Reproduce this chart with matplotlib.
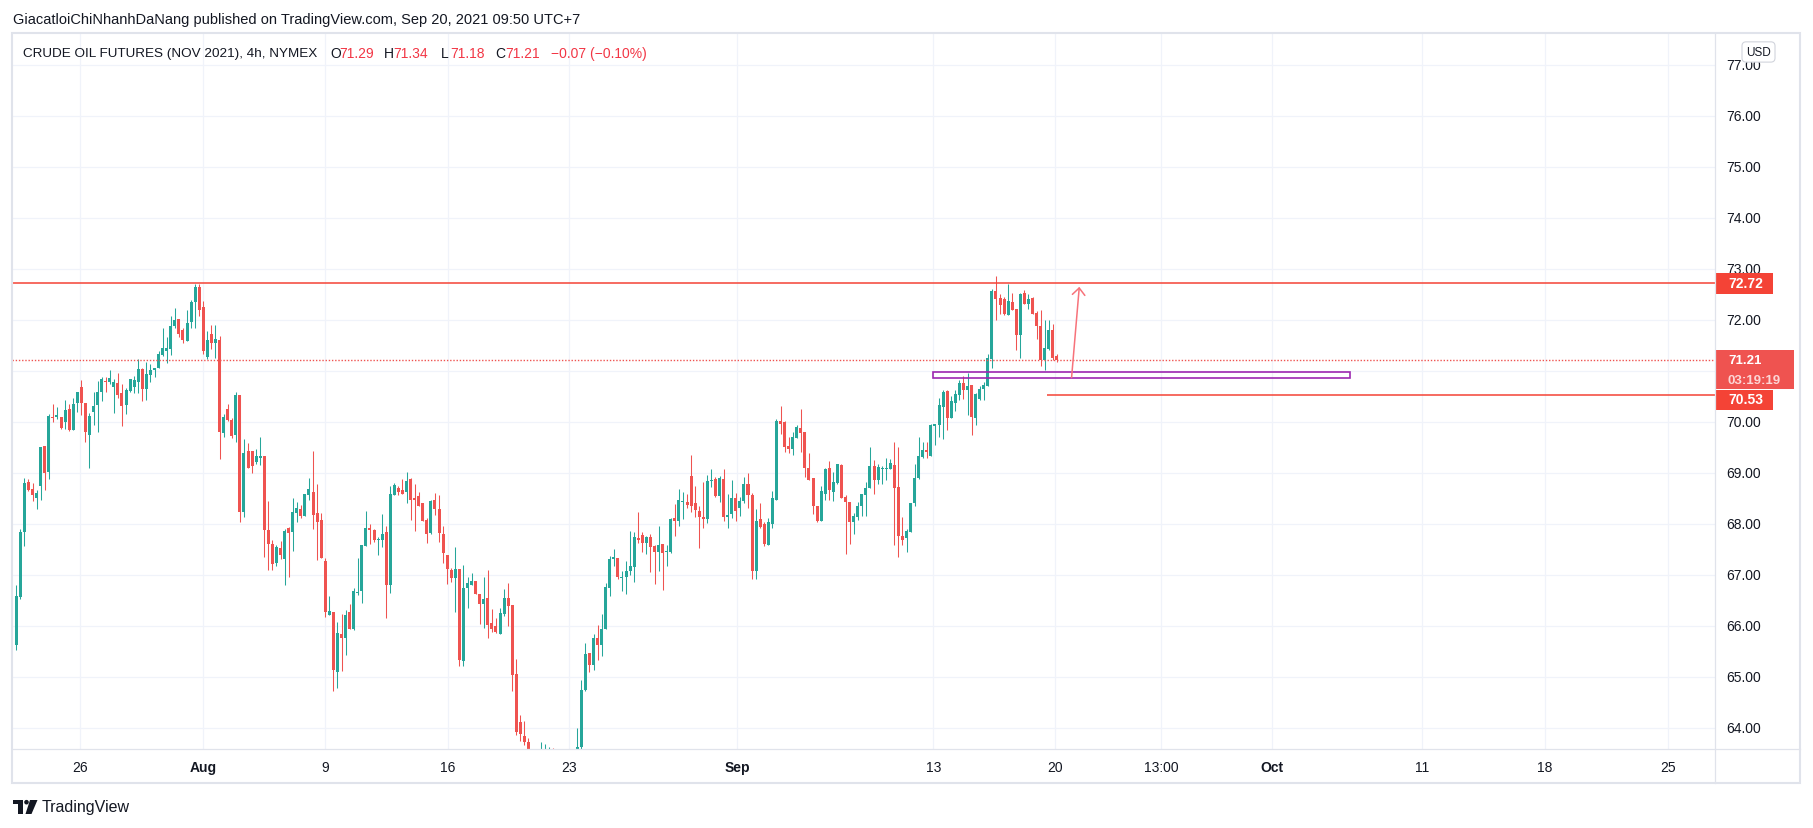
import numpy as np
import matplotlib
matplotlib.use("Agg")
import matplotlib.pyplot as plt
from matplotlib.patches import Rectangle, FancyArrowPatch, Polygon, Circle
from matplotlib.lines import Line2D

plt.rcParams['font.family'] = ['Liberation Sans', 'DejaVu Sans']

# ---- data: 4h candles, CL Nov 2021 ----
opens = [
    65.62, 66.56, 67.84, 68.82, 68.69, 68.50, 68.74, 69.52, 69.01, 70.10,
    70.09, 70.10, 69.99, 70.26, 69.85, 70.37, 70.69, 70.38, 69.75, 70.20,
    70.33, 70.59, 70.81, 70.79, 70.68, 70.77, 70.56, 70.33, 70.61, 70.69,
    70.79, 71.03, 70.65, 70.93, 71.01, 71.05, 71.32, 71.40, 71.44, 71.89,
    72.01, 71.81, 71.58, 71.97, 72.36, 72.65, 72.26, 71.28, 71.73, 71.54,
    71.61, 69.79, 70.26, 70.03, 69.75, 70.52, 68.24, 69.44, 69.44, 69.22,
    69.30, 69.34, 67.89, 67.61, 67.23, 67.52, 67.31, 67.93, 67.84, 68.21,
    68.30, 68.16, 68.56, 68.63, 68.22, 68.07, 67.28, 66.21, 66.28, 65.09,
    65.85, 65.76, 66.28, 65.95, 66.64, 66.69, 67.56, 67.93, 67.89, 67.68,
    67.68, 67.85, 66.80, 68.56, 68.71, 68.67, 68.62, 68.89, 68.50, 68.54,
    68.42, 68.08, 67.83, 68.48, 68.30, 67.81, 67.40, 67.09, 66.95, 67.12,
    65.31, 66.74, 66.81, 66.89, 66.62, 66.44, 66.54, 66.05, 65.99, 65.84,
    66.23, 66.54, 66.42, 65.05, 64.12, 63.84, 63.73, 63.35, 63.05, 63.20,
    63.30, 63.35, 63.48, 63.10, 62.60, 62.30, 62.55, 62.95, 63.30, 63.62,
    64.75, 65.48, 65.23, 65.77, 65.62, 65.95, 66.75, 67.32, 67.34, 66.95,
    66.97, 67.07, 67.15, 67.73, 67.79, 67.63, 67.75, 67.56, 67.46, 67.61,
    67.46, 67.46, 68.12, 68.05, 68.44, 68.44, 68.95, 68.42, 68.26, 68.14,
    68.09, 68.84, 68.89, 68.54, 68.89, 68.14, 68.20, 68.50, 68.31, 68.46,
    68.79, 68.56, 67.08, 68.09, 67.99, 67.59, 67.99, 68.48, 70.01, 69.99,
    69.52, 69.48, 69.69, 69.89, 69.81, 69.09, 68.91, 68.36, 68.05, 68.59,
    69.09, 68.63, 68.81, 69.16, 68.52, 68.44, 68.03, 68.14, 68.36, 68.56,
    68.71, 69.14, 68.87, 69.08, 69.08, 69.08, 69.16, 68.73, 67.76, 67.72,
    67.85, 68.42, 68.91, 69.32, 69.46, 69.34, 69.93, 69.95, 70.30, 70.61,
    70.08, 70.37, 70.52, 70.77, 70.62, 70.73, 70.08, 70.46, 70.65, 70.71,
    71.24, 72.56, 72.44, 72.42, 72.10, 72.36, 72.22, 71.71, 72.52, 72.32,
    72.44, 72.14, 71.89, 71.22, 71.44, 71.81, 71.29,
]
highs = [
    66.81, 67.91, 68.91, 68.89, 68.81, 68.66, 69.50, 69.52, 70.15, 70.36,
    70.30, 70.10, 70.44, 70.35, 70.48, 70.59, 70.83, 70.38, 70.18, 70.59,
    70.81, 70.88, 70.89, 71.01, 70.85, 70.97, 70.75, 70.67, 70.85, 70.91,
    71.24, 71.05, 71.18, 71.14, 71.05, 71.40, 71.85, 71.67, 72.08, 72.24,
    72.01, 71.85, 72.20, 72.40, 72.70, 72.70, 72.38, 71.79, 71.91, 71.91,
    71.69, 70.16, 70.36, 70.07, 70.58, 70.52, 69.67, 69.59, 69.44, 69.48,
    69.71, 69.34, 68.46, 67.69, 67.59, 67.67, 67.91, 67.95, 68.50, 68.44,
    68.38, 68.59, 68.91, 69.44, 68.79, 68.22, 67.34, 66.58, 66.28, 66.07,
    66.24, 66.32, 66.44, 66.75, 67.33, 67.59, 68.26, 67.99, 67.91, 67.75,
    68.20, 67.97, 68.75, 68.81, 68.75, 68.89, 69.01, 68.91, 68.79, 68.63,
    68.42, 68.12, 68.48, 68.61, 68.56, 67.97, 67.40, 67.13, 67.54, 67.12,
    67.20, 66.97, 67.03, 66.89, 66.62, 66.97, 67.10, 66.34, 66.16, 66.35,
    66.73, 66.85, 66.42, 65.36, 64.26, 64.13, 63.81, 63.50, 63.45, 63.72,
    63.69, 63.62, 63.60, 63.40, 62.90, 62.70, 63.10, 63.45, 64.00, 64.95,
    65.67, 65.48, 65.85, 66.01, 66.24, 66.85, 67.38, 67.50, 67.34, 67.08,
    67.28, 67.87, 67.85, 68.24, 67.85, 67.77, 67.81, 67.59, 67.97, 67.61,
    67.59, 68.12, 68.40, 68.69, 68.63, 68.58, 69.36, 68.74, 68.36, 68.83,
    68.97, 69.07, 68.93, 68.95, 69.07, 68.59, 68.87, 68.61, 68.52, 68.93,
    68.99, 68.61, 68.30, 68.42, 68.03, 68.12, 68.65, 70.05, 70.32, 70.01,
    69.71, 69.80, 69.95, 70.26, 69.81, 69.40, 68.91, 68.36, 68.75, 69.09,
    69.24, 69.01, 69.18, 69.18, 68.56, 68.44, 68.22, 68.44, 68.58, 68.83,
    69.50, 69.26, 69.18, 69.14, 69.30, 69.28, 69.61, 69.50, 68.14, 67.91,
    68.42, 69.18, 69.71, 69.61, 69.61, 69.97, 69.97, 70.48, 70.63, 70.63,
    70.50, 70.63, 70.83, 70.91, 70.97, 70.73, 70.56, 70.71, 70.79, 71.34,
    72.61, 72.87, 72.50, 72.46, 72.71, 72.52, 72.22, 72.52, 72.59, 72.50,
    72.46, 72.18, 72.20, 71.99, 71.99, 71.93, 71.34,
]
lows = [
    65.52, 66.52, 67.56, 68.64, 68.46, 68.29, 68.48, 68.66, 68.88, 69.99,
    70.05, 69.87, 69.87, 69.83, 69.85, 70.20, 70.13, 69.60, 69.09, 69.95,
    69.80, 70.42, 70.58, 70.75, 70.18, 70.48, 69.93, 70.15, 70.58, 70.56,
    70.56, 70.42, 70.44, 70.79, 70.88, 71.05, 71.30, 71.16, 71.32, 71.85,
    71.67, 71.54, 71.58, 71.84, 71.85, 72.07, 71.34, 71.24, 71.44, 71.26,
    69.28, 69.71, 70.01, 69.69, 69.61, 68.03, 68.14, 69.09, 68.99, 69.18,
    69.16, 67.36, 67.10, 67.09, 67.17, 67.32, 66.80, 66.97, 67.48, 68.03,
    68.11, 68.16, 68.48, 67.90, 67.29, 67.33, 66.17, 66.21, 64.72, 64.78,
    65.11, 65.44, 65.95, 65.93, 66.61, 66.46, 67.56, 67.61, 67.64, 67.39,
    67.54, 66.15, 66.64, 68.56, 68.56, 68.58, 68.41, 68.08, 67.86, 68.35,
    68.05, 67.62, 67.81, 68.17, 67.64, 67.23, 66.82, 66.86, 66.27, 65.21,
    65.21, 66.35, 66.80, 66.62, 66.03, 65.97, 65.76, 65.88, 65.86, 65.84,
    66.19, 65.99, 64.72, 63.86, 63.74, 63.66, 63.20, 62.90, 62.80, 62.95,
    63.10, 63.05, 63.00, 62.40, 62.10, 62.00, 62.40, 62.80, 63.20, 63.50,
    64.72, 65.09, 65.14, 65.34, 65.42, 65.95, 66.58, 67.17, 66.93, 66.68,
    66.62, 66.99, 66.87, 67.62, 67.46, 67.42, 67.05, 66.82, 67.08, 66.70,
    67.17, 67.44, 67.76, 67.97, 68.09, 68.31, 68.23, 68.13, 67.52, 67.93,
    68.01, 68.72, 68.52, 68.44, 68.05, 67.92, 68.11, 68.05, 68.15, 68.42,
    68.31, 66.92, 66.92, 67.92, 67.56, 67.58, 67.92, 68.48, 69.76, 69.41,
    69.39, 69.35, 69.69, 69.42, 68.93, 68.86, 68.19, 68.03, 68.05, 68.48,
    68.48, 68.46, 68.79, 68.50, 67.42, 67.60, 67.81, 68.08, 68.16, 68.16,
    68.71, 68.58, 68.79, 68.79, 68.87, 69.07, 67.58, 67.35, 67.58, 67.46,
    67.85, 68.36, 68.89, 69.30, 69.30, 69.34, 69.54, 69.71, 69.66, 69.85,
    70.07, 70.22, 70.44, 70.46, 70.14, 69.74, 69.95, 70.44, 70.44, 70.71,
    71.05, 71.99, 72.12, 72.10, 72.10, 72.20, 71.42, 71.26, 72.32, 72.22,
    72.12, 71.63, 71.09, 71.01, 71.42, 71.22, 71.18,
]
closes = [
    66.59, 67.85, 68.81, 68.67, 68.56, 68.61, 69.50, 68.99, 70.12, 70.07,
    70.14, 69.89, 70.24, 69.85, 70.36, 70.59, 70.37, 69.80, 70.12, 70.32,
    70.59, 70.85, 70.79, 70.87, 70.79, 70.52, 70.31, 70.63, 70.85, 70.83,
    71.03, 70.65, 70.95, 71.01, 71.05, 71.34, 71.46, 71.46, 71.89, 71.99,
    71.73, 71.60, 71.95, 72.36, 72.65, 72.20, 71.40, 71.61, 71.54, 71.63,
    69.81, 70.10, 70.03, 69.73, 70.52, 68.24, 69.40, 69.09, 69.14, 69.34,
    69.34, 67.89, 67.61, 67.21, 67.54, 67.39, 67.87, 67.83, 68.24, 68.32,
    68.15, 68.58, 68.69, 68.18, 68.03, 67.33, 66.27, 66.29, 65.13, 65.87,
    65.77, 66.22, 65.95, 66.69, 66.67, 67.58, 67.93, 67.88, 67.68, 67.71,
    67.81, 66.80, 68.58, 68.77, 68.63, 68.59, 68.85, 68.48, 68.48, 68.36,
    68.05, 67.80, 68.46, 68.30, 67.82, 67.44, 67.11, 66.95, 67.12, 65.33,
    66.75, 66.85, 66.89, 66.62, 66.44, 66.52, 66.01, 65.95, 65.89, 66.25,
    66.54, 66.39, 65.03, 63.93, 63.88, 63.73, 63.35, 63.05, 63.30, 63.45,
    63.50, 63.48, 63.10, 62.60, 62.30, 62.55, 62.95, 63.30, 63.62, 64.75,
    65.46, 65.23, 65.77, 65.63, 65.95, 66.77, 67.32, 67.36, 66.97, 66.97,
    67.08, 67.18, 67.75, 67.69, 67.62, 67.75, 67.54, 67.46, 67.59, 67.44,
    67.48, 68.10, 68.05, 68.48, 68.46, 68.38, 68.36, 68.27, 68.13, 68.09,
    68.85, 68.86, 68.54, 68.91, 68.14, 68.18, 68.50, 68.25, 68.46, 68.79,
    68.56, 67.08, 68.05, 67.95, 67.61, 68.03, 68.50, 70.01, 69.97, 69.50,
    69.48, 69.71, 69.91, 69.78, 69.09, 68.86, 68.35, 68.05, 68.65, 69.07,
    68.67, 68.83, 69.18, 68.50, 68.44, 68.03, 68.16, 68.36, 68.58, 68.71,
    69.14, 68.87, 69.12, 69.10, 69.10, 69.20, 68.71, 67.76, 67.68, 67.87,
    68.42, 68.91, 69.34, 69.46, 69.42, 69.95, 69.97, 70.34, 70.59, 70.07,
    70.42, 70.54, 70.77, 70.62, 70.71, 70.09, 70.54, 70.65, 70.73, 71.26,
    72.56, 72.42, 72.30, 72.12, 72.38, 72.20, 71.71, 72.50, 72.32, 72.42,
    72.12, 71.89, 71.22, 71.46, 71.81, 71.26, 71.21,
]

# time axis labels (bar index where each label sits)
tick_labels = ["26", "Aug", "9", "16", "23", "Sep", "13", "20", "13:00",
               "Oct", "11", "18", "25"]
tick_bars = [15.7, 45.9, 75.9, 106.1, 136.0, 177.3, 225.6, 255.5, 281.6,
             308.9, 345.8, 376.1, 406.3]
bold_labels = {"Aug", "Sep", "Oct"}
price_ticks = list(range(64, 78))
hidden_price_labels = {71}   # covered by the last-price tag in the reference

# drawings
resistance = 72.72
support = 70.53
support_from_bar = 253.6
last_price = 71.21
countdown = "03:19:19"
zone_bars = (225.5, 328.1)
zone_prices = (70.857, 70.975)
arrow_from = (259.6, 70.87)
arrow_to = (261.5, 72.65)

header = "GiacatloiChiNhanhDaNang published on TradingView.com, Sep 20, 2021 09:50 UTC+7"
legend_name = "CRUDE OIL FUTURES (NOV 2021), 4h, NYMEX"
legend_ohlc = [("O", "71.29"), ("H", "71.34"), ("L", "71.18"), ("C", "71.21")]
legend_change = "\u22120.07 (\u22120.10%)"

# ---- layout (pixels of the 1813x829 picture) ----
W, H = 1813, 829
UP, DOWN = "#26a69a", "#ef5350"
LINE_RED = "#f44336"
TXT = "#131722"
GRID = "#f0f3fa"
BORDER = "#e0e3eb"

BAR0_PX, BAR_STEP = 16.3, 4.065
L, R, T, B = 12, 1715, 34, 750
xlim = ((L - BAR0_PX) / BAR_STEP, (R - BAR0_PX) / BAR_STEP)
ylim = (63.588, 77.627)


def fx(px):
    return px / W


def fy(py):
    return 1 - py / H


fig = plt.figure(figsize=(W / 100, H / 100), dpi=100)
fig.patch.set_facecolor("white")

ax = fig.add_axes([fx(L), fy(B), (R - L) / W, (B - T) / H])
ax.set_xlim(*xlim)
ax.set_ylim(*ylim)
ax.set_axis_off()

for p in price_ticks:
    ax.axhline(p, color=GRID, lw=0.9, zorder=0)
for t in tick_bars:
    ax.axvline(t, color=GRID, lw=0.9, zorder=0)

o = np.array(opens)
h = np.array(highs)
lo = np.array(lows)
c = np.array(closes)
x = np.arange(len(o))
cols = np.where(c >= o, UP, DOWN)
ax.vlines(x, lo, h, colors=cols, lw=0.75, zorder=2)
ax.bar(x, np.maximum(np.abs(c - o), 0.02), bottom=np.minimum(o, c),
       width=0.74, color=cols, lw=0, zorder=3)

ax.axhline(resistance, color=LINE_RED, lw=1.1, zorder=4)
ax.hlines(support, support_from_bar, xlim[1], color=LINE_RED, lw=1.1, zorder=4)
ax.axhline(last_price, color=DOWN, lw=1.0, ls=(0, (1, 1.3)), zorder=4)
ax.add_patch(Rectangle((zone_bars[0], zone_prices[0]), zone_bars[1] - zone_bars[0],
                       zone_prices[1] - zone_prices[0], fill=False,
                       ec="#9c27b0", lw=1.2, zorder=5))
ax.add_patch(FancyArrowPatch(arrow_from, arrow_to,
                             arrowstyle="->,head_length=0.5,head_width=0.45",
                             mutation_scale=10, color="#f7727a", lw=1.1,
                             shrinkA=0, shrinkB=0, zorder=5))

# price scale
pax = fig.add_axes([fx(R), fy(B), (1800 - R) / W, (B - T) / H])
pax.set_xlim(0, 85)
pax.set_ylim(*ylim)
pax.set_axis_off()
for p in price_ticks:
    if p in hidden_price_labels:
        continue
    pax.text(11.7, p, f"{p:.2f}", ha="left", va="center", fontsize=10, color=TXT)

px_per = (B - T) / (ylim[1] - ylim[0])


def py2price(py):
    return ylim[1] - (py - T) / px_per


pax.add_patch(Rectangle((0, resistance - 10.5 / px_per), 58, 21 / px_per,
                        fc=LINE_RED, ec="none", zorder=5))
pax.text(13, resistance, f"{resistance:.2f}", ha="left", va="center",
         color="white", fontsize=10, fontweight="bold", zorder=6)
pax.add_patch(Rectangle((0, py2price(390)), 79, (390 - 351) / px_per,
                        fc=DOWN, ec="none", zorder=5))
pax.text(13, py2price(361), f"{last_price:.2f}", ha="left", va="center",
         color="white", fontsize=9.5, fontweight="bold", zorder=6)
pax.text(13, py2price(381), countdown, ha="left", va="center",
         color="#fcd6d6", fontsize=9.5, fontweight="bold", zorder=6)
pax.add_patch(Rectangle((0, py2price(410.5)), 58, 20 / px_per,
                        fc=LINE_RED, ec="none", zorder=5))
pax.text(13, py2price(400.5), f"{support:.2f}", ha="left", va="center",
         color="white", fontsize=10, fontweight="bold", zorder=6)
pax.text(43.5, 77.255, "USD", ha="center", va="center", fontsize=8.5, color=TXT,
         zorder=7, bbox=dict(boxstyle="round,pad=0.35,rounding_size=0.35",
                             fc="white", ec="#d1d4dc", lw=0.8))

# time scale
tax = fig.add_axes([fx(L), fy(784), (R - L) / W, 34 / H])
tax.set_xlim(*xlim)
tax.set_ylim(0, 1)
tax.set_axis_off()
for lab, t in zip(tick_labels, tick_bars):
    tax.text(t, 0.47, lab, ha="center", va="center", fontsize=10, color=TXT,
             fontweight="bold" if lab in bold_labels else "normal")

# frame
fig.add_artist(Rectangle((fx(L), fy(784)), (1800 - L) / W, (784 - T) / H,
                         transform=fig.transFigure, fill=False, ec=BORDER, lw=1.5))
fig.add_artist(Line2D([fx(R), fx(R)], [fy(T), fy(784)], transform=fig.transFigure,
                      color=BORDER, lw=0.9))
fig.add_artist(Line2D([fx(L), fx(1800)], [fy(B), fy(B)], transform=fig.transFigure,
                      color=BORDER, lw=0.9))

# header + legend
fig.text(fx(13), fy(20), header, ha="left", va="center", fontsize=10.5, color=TXT)
fig.text(fx(23), fy(54), legend_name, ha="left", va="center", fontsize=9.7, color=TXT)
ohlc_x = [330, 384, 440.6, 495.5]
for (k, v), xp in zip(legend_ohlc, ohlc_x):
    fig.text(fx(xp), fy(54), k, ha="left", va="center", fontsize=10, color=TXT)
    fig.text(fx(xp + 9.5), fy(54), v, ha="left", va="center", fontsize=10, color="#f23645")
fig.text(fx(551), fy(54), legend_change, ha="left", va="center", fontsize=10,
         color="#f23645")

# TradingView logo
lax = fig.add_axes([0, 0, 200 / W, 45 / H])
lax.set_xlim(0, 200)
lax.set_ylim(829, 784)
lax.set_axis_off()
lax.add_patch(Rectangle((13, 801), 9.5, 4, fc=TXT, ec="none"))
lax.add_patch(Rectangle((17.5, 801), 5, 14, fc=TXT, ec="none"))
lax.add_patch(Circle((26.5, 803.2), 2.3, fc=TXT, ec="none"))
lax.add_patch(Polygon([(30, 801), (37.5, 801), (31.5, 815), (25.5, 815)], fc=TXT, ec="none"))
lax.text(42, 808, "TradingView", ha="left", va="center", fontsize=11.5, color=TXT)

fig.savefig("out.png", dpi=100, facecolor="white")
